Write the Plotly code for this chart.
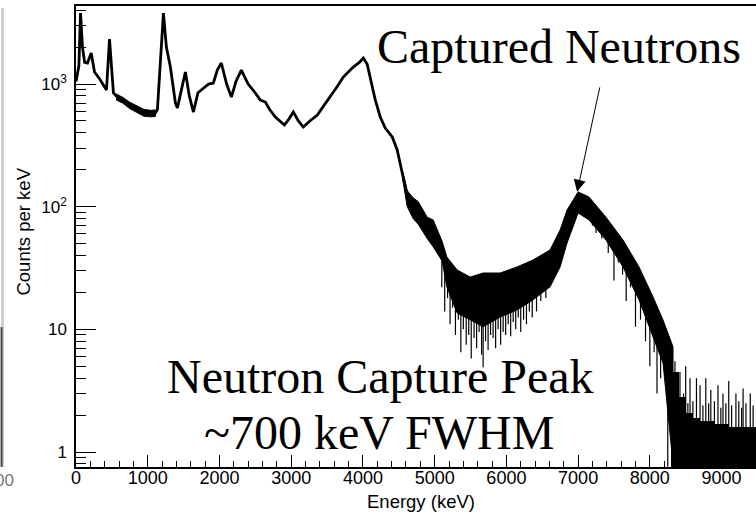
import plotly.graph_objects as go

# ---- data ----
energy_keV = [0, 40, 63, 90, 120, 160, 212, 258, 330, 400, 425, 467, 500, 522, 578, 700, 801, 900, 996,
              1107, 1135, 1170, 1219, 1260, 1316, 1386, 1414, 1470, 1525, 1580, 1637, 1700, 1776, 1850,
              1915, 1970, 2026, 2100, 2166, 2230, 2305, 2400, 2500, 2570, 2640, 2700, 2779, 2905, 2970,
              3030, 3100, 3169, 3260, 3364, 3450, 3545, 3640, 3726, 3865, 3950, 4005, 4060, 4102, 4172,
              4242, 4311, 4409, 4478, 4548, 4618]
counts_center = [1050, 1400, 3790, 2000, 1500, 1483, 1790, 1253, 1100, 927, 894, 2327, 1200, 845, 783, 700,
                 650, 600, 570, 580, 620, 1300, 3790, 2000, 1376, 700, 637, 900, 1253, 800, 591, 850, 927,
                 1000, 1019, 1300, 1483, 1000, 783, 1050, 1300, 1000, 845, 740, 713, 620, 538, 463, 520,
                 591, 500, 446, 500, 559, 660, 783, 950, 1140, 1376, 1500, 1629, 1450, 1140, 741,
                 538, 438, 370, 290, 188, 125]

low_band_energy = [560, 650, 750, 850, 950, 1050, 1107]
low_band_upper = [830, 780, 710, 660, 620, 610, 615]
low_band_lower = [740, 700, 630, 585, 545, 540, 545]

band_energy = [4548, 4618, 4700, 4771, 4896, 4980, 5105, 5170, 5314, 5495, 5676, 5913, 6149, 6372, 6609,
               6749, 6846, 7000, 7152, 7389, 7626, 7849, 8044, 8184, 8323]
band_upper = [200, 135, 118, 110, 82, 78, 52, 38.9, 30.5, 26.7, 28.8, 28.8, 32.3, 36.8, 44.4,
              64.6, 94, 132, 120, 82, 53.5, 32.3, 18.4, 11.9, 7.2]
band_lower = [175, 100, 80, 72, 55, 47, 36, 22.2, 13.6, 11.9, 10.5, 12.6, 14.4, 17.4, 22.2,
              32.3, 50.6, 88.9, 78, 53.5, 32.3, 17.4, 8.7, 5.3, 0.8]

# tail: counts of 0-3 per keV (100 keV groups), zero bins reach the bottom of the frame
tail_energy = [8350, 8450, 8550, 8650, 8750, 8850, 8950, 9050, 9150, 9250, 9350, 9450, 9550]
tail_upper = [4.5, 2.8, 2.1, 1.9, 1.8, 1.8, 1.7, 1.7, 1.6, 1.6, 1.6, 1.6, 1.6]

dip_energy = [5100, 5140, 5180, 5215, 5250, 5290, 5330, 5365, 5400, 5440, 5475, 5510, 5550, 5585, 5620,
              5655, 5676, 5710, 5745, 5780, 5815, 5850, 5885, 5920, 5955, 5990, 6025, 6060, 6095, 6130,
              6165, 6200, 6240, 6280, 6320, 6360, 6420, 6480, 6550,
              7200, 7250, 7330, 7420, 7500, 7560, 7620, 7670, 7730, 7800, 7870, 7940, 8000, 8060, 8100,
              8150, 8250]
dip_from = [40, 36, 32, 30, 28, 25, 24, 22, 21, 20, 20, 19, 19, 19, 19,
            19, 19, 19, 19, 19, 19, 20, 20, 20, 20, 21, 21, 22, 22, 23,
            23, 24, 25, 26, 27, 28, 30, 32, 36,
            100, 90, 85, 70, 60, 55, 45, 40, 35, 28, 22, 18, 15, 13, 10,
            9, 7]
dip_to = [22, 14, 18, 11, 15, 9, 12, 6.5, 10, 7.5, 9, 5.8, 8.5, 7, 9.5,
          6.2, 4.9, 8, 6.8, 9, 8.5, 7, 10, 7.5, 9.5, 9, 11, 8.8, 11.5, 10,
          12.5, 9.5, 12, 11, 14, 12.5, 14, 17, 18,
          70, 61, 55, 42, 25, 35, 28, 17, 22, 10.5, 12, 8, 5, 6.5, 3,
          4, 0.76]

spike_energy = [8350, 8420, 8470, 8500, 8530, 8560, 8600, 8650, 8700, 8740, 8780, 8820, 8850, 8900, 8950,
                8990, 9020, 9060, 9100, 9140, 9200, 9240, 9280, 9300, 9340, 9400, 9440]
spike_high = [5.5, 4.5, 3.0, 5, 2.5, 4, 2.6, 4, 3.5, 2.4, 4, 2.5, 3.2, 2.6, 3.5,
              2.3, 3, 2.5, 3.8, 2.4, 3, 2.6, 2.3, 3.3, 2.5, 3, 2.4]

x_ticks = [0, 1000, 2000, 3000, 4000, 5000, 6000, 7000, 8000, 9000]
y_ticks = [1, 10, 100, 1000]
y_ticktext = ["1", "10", "10<sup>2</sup>", "10<sup>3</sup>"]
y_minor = [0.8, 0.9, 2, 3, 4, 5, 6, 7, 8, 9, 20, 30, 40, 50, 60, 70, 80, 90,
           200, 300, 400, 500, 600, 700, 800, 900, 2000, 3000, 4000]

fig = go.Figure()

for be, bu, bl in [(low_band_energy, low_band_upper, low_band_lower),
                   (band_energy, band_upper, band_lower)]:
    fig.add_trace(go.Scatter(x=list(be) + list(be)[::-1], y=list(bu) + list(bl)[::-1],
                             mode="lines", fill="toself", fillcolor="black",
                             line=dict(color="black", width=1), showlegend=False, hoverinfo="skip"))

fig.add_trace(go.Bar(x=tail_energy, y=tail_upper, width=[100] * len(tail_energy),
                     marker=dict(color="black", line=dict(width=0)), showlegend=False, hoverinfo="skip"))

fig.add_trace(go.Scatter(x=energy_keV, y=counts_center, mode="lines",
                         line=dict(color="black", width=2.8), showlegend=False))

dx, dy = [], []
for e, a, b in zip(dip_energy, dip_from, dip_to):
    dx += [e, e, None]
    dy += [a, b, None]
for e, h in zip(spike_energy, spike_high):
    dx += [e, e, None]
    dy += [1.2, h, None]
fig.add_trace(go.Scatter(x=dx, y=dy, mode="lines", line=dict(color="black", width=1.2),
                         showlegend=False, hoverinfo="skip"))

W0, PW, PB, PH = 75.5, 680.5, 467, 461

def px(x):
    return (x - W0) / PW

def py(y):
    return (PB - y) / PH

serif = "Liberation Serif"
fig.add_annotation(text="Captured Neutrons", xref="paper", yref="paper", x=px(558.5), y=py(47),
                   xanchor="center", yanchor="middle", showarrow=False,
                   font=dict(family=serif, size=48, color="black"))
fig.add_annotation(text="Neutron Capture Peak", xref="paper", yref="paper", x=px(380), y=py(376),
                   xanchor="center", yanchor="middle", showarrow=False,
                   font=dict(family=serif, size=48, color="black"))
fig.add_annotation(text="~700 keV FWHM", xref="paper", yref="paper", x=px(379), y=py(432),
                   xanchor="center", yanchor="middle", showarrow=False,
                   font=dict(family=serif, size=48, color="black"))
fig.add_annotation(text="", x=6986, y=2.121, xref="x", yref="y", ax=23, ay=-106,
                   showarrow=True, arrowhead=2, arrowsize=2.4, arrowwidth=1, arrowcolor="black")

sans = "Liberation Sans"
fig.add_annotation(text="Counts per keV", xref="paper", yref="paper", x=px(23), y=py(232),
                   textangle=-90, showarrow=False, xanchor="center", yanchor="middle",
                   font=dict(family=sans, size=18.5, color="black"))
fig.add_annotation(text="Energy (keV)", xref="paper", yref="paper", x=px(421), y=py(501),
                   showarrow=False, xanchor="center", yanchor="middle",
                   font=dict(family=sans, size=18.5, color="black"))
fig.add_annotation(text="00", xref="paper", yref="paper", x=px(15), y=py(481),
                   showarrow=False, xanchor="right", yanchor="middle",
                   font=dict(family=sans, size=17, color="#777777"))

fig.add_shape(type="line", xref="paper", yref="paper", x0=px(2), x1=px(2), y0=py(8), y1=py(467),
              line=dict(color="#cfcfcf", width=3))
fig.add_shape(type="line", xref="paper", yref="paper", x0=px(1), x1=px(1), y0=py(327), y1=py(467),
              line=dict(color="#444444", width=2))

fig.update_xaxes(range=[0, 9480], showline=True, linecolor="black", linewidth=1.5, mirror=True,
                 ticks="inside", ticklen=12, tickwidth=1, tickcolor="black",
                 tickvals=x_ticks, ticktext=[str(v) for v in x_ticks],
                 minor=dict(dtick=200, tick0=0, ticks="inside", ticklen=6, tickcolor="black", tickwidth=1),
                 showgrid=False, zeroline=False, ticklabelstandoff=-6,
                 tickfont=dict(family=sans, size=18, color="black"))
fig.update_yaxes(type="log", range=[-0.122, 3.636], showline=True, linecolor="black", linewidth=1.5,
                 ticks="inside", ticklen=20, tickwidth=1, tickcolor="black",
                 tickvals=y_ticks, ticktext=y_ticktext,
                 minor=dict(tickvals=y_minor, ticks="inside", ticklen=10, tickcolor="black", tickwidth=1),
                 showgrid=False, zeroline=False, ticklabelstandoff=4,
                 tickfont=dict(family=sans, size=17, color="black"))

fig.update_layout(width=756, height=513, margin=dict(l=75.5, r=0, t=6, b=46),
                  plot_bgcolor="white", paper_bgcolor="white", bargap=0)

fig.write_html("out.html")
